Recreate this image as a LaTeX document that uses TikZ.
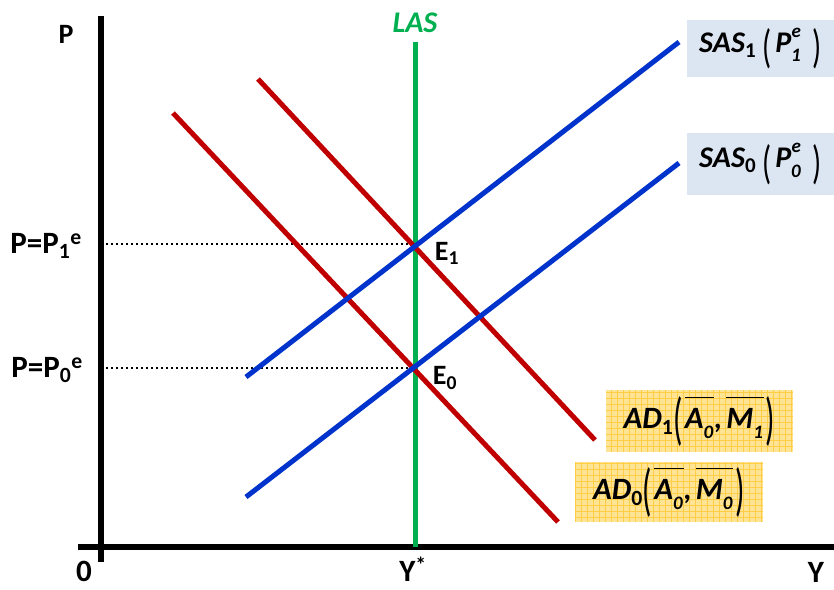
\documentclass[tikz,border=0pt]{standalone}
\usepackage{fontspec}
\setmainfont{Carlito}
\usepackage{graphicx}
\usetikzlibrary{positioning}
\definecolor{adred}{RGB}{192,0,0}
\definecolor{asblue}{RGB}{0,51,204}
\definecolor{lasgreen}{RGB}{0,176,80}
\definecolor{sasfill}{RGB}{220,230,242}
\definecolor{adfill}{RGB}{255,228,150}
\definecolor{adgrid}{RGB}{255,205,70}
% tall bracket: scale, shift, glyph
\newcommand{\tallpar}[3]{\raisebox{#2}{\scalebox{1}[#1]{\upshape\mdseries #3}}}
\newcommand{\smallidx}[1]{{\fontsize{19}{19}\selectfont #1}}
\newcommand{\pexp}[1]{P\rlap{\kern0.5pt\raisebox{0.5em}{\smallidx{e}}}\raisebox{-0.32em}{\smallidx{#1}}\kern4pt}
\newcommand{\barred}[2]{\setbox0\hbox{#1\raisebox{-0.3em}{\smallidx{#2}}\kern1pt}%
  \rlap{\raisebox{0.98em}{\rule{\wd0}{1.8pt}}}\box0}
\tikzset{
  axis/.style={line width=5.5pt},
  adline/.style={adred, line width=5pt},
  sasline/.style={asblue, line width=5pt},
  guide/.style={line width=2pt, dash pattern=on 2pt off 3pt},
  lbl/.style={font=\fontsize{31}{33}\selectfont\bfseries, inner sep=0pt},
  eqlbl/.style={font=\fontsize{28}{30}\selectfont\bfseries, inner sep=0pt},
  sasbox/.style={fill=sasfill, inner sep=0pt, font=\fontsize{30}{32}\selectfont\bfseries\itshape},
  adbox/.style={fill=adfill, inner sep=0pt, font=\fontsize{31}{33}\selectfont\bfseries\itshape,
    path picture={\draw[adgrid, line width=0.6pt, step=6pt]
      (path picture bounding box.south west) grid (path picture bounding box.north east);}},
}
\begin{document}
\begin{tikzpicture}[x=1pt, y=-1pt]
  \useasboundingbox (0,0) rectangle (834,589);
  % axes
  \coordinate (ytop) at (101,16);
  \coordinate (ybot) at (101,562);
  \coordinate (xleft) at (78,547);
  \coordinate (xright) at (834,547);
  \draw[axis] (ytop) -- (ybot);
  \draw[axis] (xleft) -- (xright);
  \node[eqlbl] (plab) at (66,34) {P};
  \node[lbl] (zero) at (84,571) {0};
  \node[lbl] (ylab) at (816,572) {Y};

  % equilibria and price levels
  \coordinate (e0) at (415,368);
  \coordinate (e1) at (415,244);
  \coordinate (p0) at (106,368);
  \coordinate (p1) at (106,244);
  \draw[guide] (p1) -- (e1);
  \draw[guide] (p0) -- (e0);
  \node[lbl] (p1lab) at (46,246) {P=P\textsubscript{1}\textsuperscript{e}};
  \node[lbl] (p0lab) at (47,370) {P=P\textsubscript{0}\textsuperscript{e}};

  % long-run supply
  \coordinate (lastop) at (415,42);
  \coordinate (lasbot) at (415,547);
  \draw[lasgreen, line width=5pt] (lastop) -- (lasbot);
  \node[lbl, font=\fontsize{30}{32}\selectfont\bfseries\itshape, text=lasgreen] (laslab) at (415,23) {LAS};
  \node[lbl] (ystar) at (413,569) {Y\textsuperscript{*}};

  % demand curves
  \coordinate (ad1a) at (258,79);
  \coordinate (ad1b) at (595,440);
  \coordinate (ad0a) at (173,113);
  \coordinate (ad0b) at (558,522);
  \draw[adline] (ad1a) -- (ad1b);
  \draw[adline] (ad0a) -- (ad0b);

  % short-run supply curves
  \coordinate (sas1a) at (246,377);
  \coordinate (sas1b) at (679,42);
  \coordinate (sas0a) at (246,497);
  \coordinate (sas0b) at (679,163);
  \draw[sasline] (sas1a) -- (sas1b);
  \draw[sasline] (sas0a) -- (sas0b);

  \node[eqlbl] (e1lab) at (447,253) {E\textsubscript{1}};
  \node[eqlbl] (e0lab) at (445,378) {E\textsubscript{0}};

  % curve labels
  \node[sasbox, minimum width=147pt, minimum height=57pt] (sas1lab) at (760.5,48.5)
    {SAS\textsubscript{\upshape 1}\kern6pt\tallpar{1.55}{-0.35em}{(}\kern4pt\pexp{1}\kern8pt\tallpar{1.55}{-0.35em}{)}};
  \node[sasbox, minimum width=147pt, minimum height=62pt] (sas0lab) at (760.5,164)
    {SAS\textsubscript{\upshape 0}\kern6pt\tallpar{1.55}{-0.35em}{(}\kern4pt\pexp{0}\kern8pt\tallpar{1.55}{-0.35em}{)}};
  \node[adbox, minimum width=187pt, minimum height=62pt] (ad1lab) at (699.5,421)
    {AD\textsubscript{\upshape 1}\tallpar{1.85}{-0.3em}{(}\kern2pt\barred{A}{0},\kern4pt\barred{M}{1}\kern2pt\tallpar{1.85}{-0.3em}{)}};
  \node[adbox, minimum width=188pt, minimum height=60pt] (ad0lab) at (669,492)
    {AD\textsubscript{\upshape 0}\tallpar{1.85}{-0.3em}{(}\kern2pt\barred{A}{0},\kern4pt\barred{M}{0}\kern2pt\tallpar{1.85}{-0.3em}{)}};
\end{tikzpicture}
\end{document}
